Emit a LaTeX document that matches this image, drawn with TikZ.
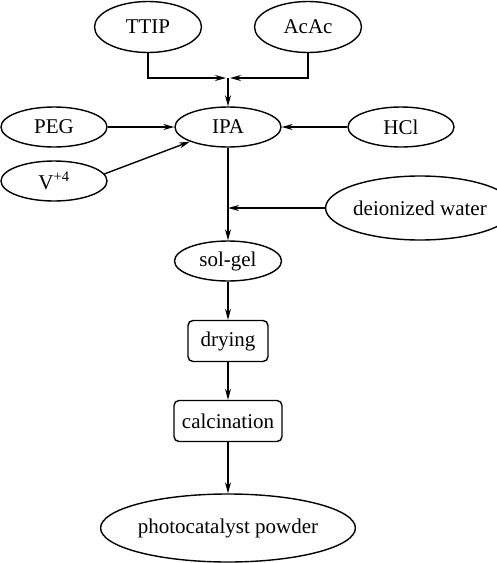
\documentclass[tikz,border=0pt]{standalone}
\usepackage{fontspec}
\setmainfont{Liberation Serif}
\usetikzlibrary{shapes.geometric,arrows.meta}
\begin{document}
\begin{tikzpicture}[x=1pt,y=-1pt,
  every node/.style={font=\fontsize{21}{25}\selectfont},
  ell/.style={draw,line width=1.4pt,ellipse,inner sep=0pt},
  rbox/.style={draw,line width=1.4pt,rectangle,rounded corners=5pt,inner sep=0pt},
  arr/.style={line width=1.4pt,-{Stealth[length=11pt,width=6pt]}}]
\useasboundingbox (0,0) rectangle (496,563);
\node[ell,minimum width=107pt,minimum height=51pt] (ttip) at (148,27) {TTIP};
\node[ell,minimum width=107pt,minimum height=51pt] (acac) at (308,27) {AcAc};
\node[ell,minimum width=106pt,minimum height=40pt] (ipa) at (228,127) {IPA};
\node[ell,minimum width=106pt,minimum height=40pt] (peg) at (54,127) {PEG};
\node[ell,minimum width=106pt,minimum height=40pt] (hcl) at (401,127) {HCl};
\node[ell,minimum width=106pt,minimum height=40pt] (v) at (54,181) {V\textsuperscript{+4}};
\node[ell,minimum width=143pt,minimum height=64pt] (dw) at (420,208) {deionized water};
\node[ell,minimum width=107pt,minimum height=40pt] (sg) at (228,261) {sol-gel};
\node[rbox,minimum width=80pt,minimum height=41pt] (dry) at (228,341) {drying};
\node[rbox,minimum width=108pt,minimum height=41pt] (cal) at (228,421) {calcination};
\node[ell,minimum width=213pt,minimum height=68pt] (pp) at (228,528) {photocatalyst powder};
\coordinate (j) at (228,78);
\coordinate (k) at (228,208);
\draw[arr,shorten >=2pt] (ttip.south) |- (j);
\draw[arr,shorten >=2pt] (acac.south) |- (j);
\draw[arr] (j) -- (ipa.north);
\draw[arr] (peg) -- (ipa);
\draw[arr] (hcl) -- (ipa);
\draw[arr] (v.8) -- (ipa.201);
\draw[arr] (dw.west) -- (k);
\draw[arr] (ipa.south) -- (sg.north);
\draw[arr] (sg) -- (dry);
\draw[arr] (dry) -- (cal);
\draw[arr] (cal) -- (pp);
\end{tikzpicture}
\end{document}
